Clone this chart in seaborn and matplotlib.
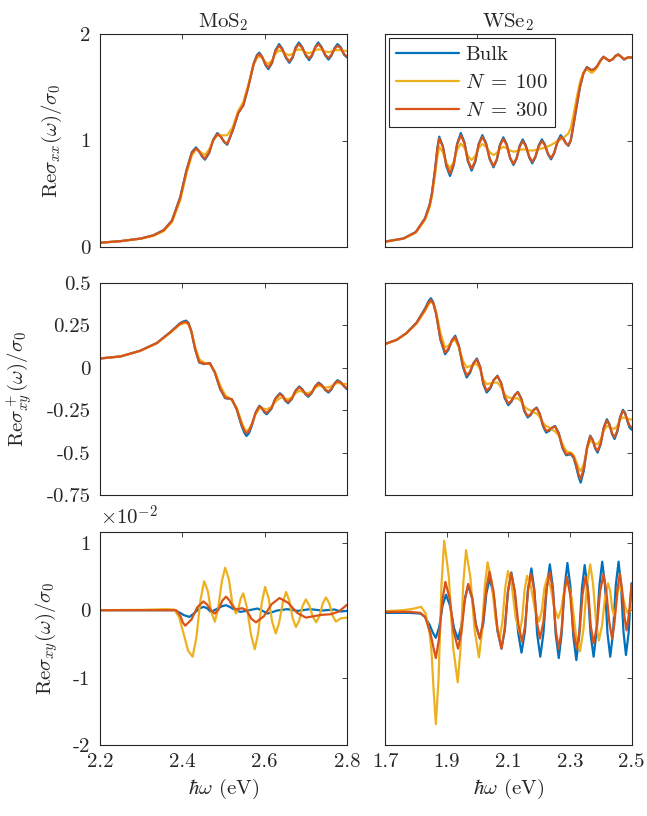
import pandas as pd
import matplotlib
matplotlib.use("Agg")
import matplotlib.pyplot as plt
from matplotlib.lines import Line2D
import seaborn as sns

# ---- MoS2, Re sigma_xx / sigma_0 ----
mos2_xx_e = [2.200, 2.250, 2.300, 2.330, 2.355, 2.375, 2.395, 2.410, 2.423, 2.433,
             2.440, 2.448, 2.455, 2.465, 2.475, 2.485, 2.493, 2.501, 2.509,
             2.522, 2.536, 2.548, 2.560, 2.573, 2.581, 2.587,
             2.594, 2.602, 2.609, 2.618, 2.626, 2.635, 2.643, 2.652, 2.660,
             2.668, 2.675, 2.683, 2.691, 2.700, 2.708, 2.715, 2.723, 2.730,
             2.738, 2.747, 2.755, 2.762, 2.770, 2.777, 2.785, 2.793, 2.800]
mos2_xx_bulk = [0.040, 0.055, 0.080, 0.110, 0.160, 0.250, 0.470, 0.720, 0.890, 0.935,
                0.906, 0.849, 0.820, 0.882, 1.008, 1.070, 1.043, 0.988, 0.960,
                1.090, 1.260, 1.330, 1.500, 1.720, 1.800, 1.825,
                1.786, 1.709, 1.670, 1.729, 1.846, 1.905, 1.861, 1.774, 1.730,
                1.778, 1.873, 1.920, 1.879, 1.796, 1.755, 1.796, 1.879, 1.920,
                1.880, 1.800, 1.760, 1.796, 1.869, 1.905, 1.875, 1.805, 1.780]
mos2_xx_n300 = [0.040, 0.055, 0.080, 0.110, 0.158, 0.247, 0.465, 0.715, 0.882, 0.925,
                0.900, 0.855, 0.830, 0.887, 1.003, 1.060, 1.037, 0.991, 0.968,
                1.090, 1.260, 1.330, 1.500, 1.715, 1.792, 1.813,
                1.781, 1.716, 1.684, 1.735, 1.839, 1.890, 1.853, 1.780, 1.743,
                1.784, 1.864, 1.905, 1.871, 1.804, 1.770, 1.804, 1.871, 1.905,
                1.873, 1.807, 1.775, 1.804, 1.861, 1.890, 1.866, 1.810, 1.790]
mos2_xx_n100 = [0.040, 0.055, 0.078, 0.105, 0.150, 0.235, 0.440, 0.690, 0.860, 0.915,
                0.905, 0.880, 0.865, 0.915, 1.000, 1.050, 1.050, 1.048, 1.050,
                1.120, 1.280, 1.360, 1.520, 1.710, 1.775, 1.790,
                1.778, 1.735, 1.720, 1.752, 1.815, 1.845, 1.838, 1.812, 1.800,
                1.815, 1.845, 1.855, 1.850, 1.828, 1.820, 1.830, 1.850, 1.855,
                1.852, 1.836, 1.830, 1.835, 1.846, 1.850, 1.848, 1.843, 1.840]

# ---- WSe2, Re sigma_xx / sigma_0 ----
wse2_xx_e = [1.700, 1.760, 1.800, 1.830, 1.845, 1.852, 1.862, 1.870, 1.876,
             1.888, 1.899, 1.911, 1.923, 1.934, 1.946, 1.958, 1.969, 1.981,
             1.993, 2.004, 2.016, 2.028, 2.040, 2.052, 2.063, 2.073, 2.084,
             2.095, 2.106, 2.117, 2.127, 2.137, 2.147, 2.157, 2.168, 2.178,
             2.188, 2.199, 2.209, 2.219, 2.229, 2.239, 2.249, 2.260, 2.270,
             2.278, 2.287, 2.295, 2.303, 2.311, 2.322, 2.333, 2.344, 2.355,
             2.363, 2.371, 2.380, 2.389, 2.399, 2.409, 2.417, 2.428, 2.440,
             2.448, 2.457, 2.465, 2.476, 2.488, 2.500]
wse2_xx_bulk = [0.050, 0.080, 0.140, 0.270, 0.400, 0.500, 0.720, 0.930, 1.036,
                0.944, 0.759, 0.667, 0.768, 0.969, 1.070, 0.982, 0.805, 0.717,
                0.800, 0.967, 1.050, 0.975, 0.824, 0.748, 0.819, 0.960, 1.030,
                0.965, 0.835, 0.770, 0.830, 0.950, 1.010, 0.954, 0.842, 0.786,
                0.842, 0.954, 1.010, 0.963, 0.870, 0.823, 0.880, 0.993, 1.050,
                1.025, 0.975, 0.950, 1.000, 1.130, 1.320, 1.505, 1.630, 1.690,
                1.675, 1.660, 1.672, 1.700, 1.750, 1.787, 1.770, 1.745, 1.765,
                1.795, 1.810, 1.790, 1.760, 1.780, 1.780]
wse2_xx_n300 = [0.050, 0.080, 0.140, 0.268, 0.395, 0.495, 0.710, 0.920, 1.020,
                0.938, 0.773, 0.690, 0.780, 0.960, 1.050, 0.971, 0.814, 0.735,
                0.810, 0.960, 1.035, 0.966, 0.829, 0.760, 0.824, 0.951, 1.015,
                0.956, 0.839, 0.780, 0.834, 0.941, 0.995, 0.946, 0.849, 0.800,
                0.849, 0.946, 0.995, 0.955, 0.875, 0.835, 0.885, 0.985, 1.035,
                1.015, 0.975, 0.955, 1.005, 1.140, 1.330, 1.510, 1.630, 1.685,
                1.672, 1.660, 1.672, 1.700, 1.750, 1.785, 1.770, 1.748, 1.765,
                1.793, 1.805, 1.790, 1.762, 1.780, 1.780]
wse2_xx_n100 = [0.050, 0.078, 0.135, 0.255, 0.375, 0.470, 0.670, 0.850, 0.940,
                0.890, 0.790, 0.740, 0.798, 0.913, 0.970, 0.932, 0.855, 0.817,
                0.854, 0.930, 0.967, 0.941, 0.890, 0.864, 0.883, 0.921, 0.940,
                0.929, 0.906, 0.895, 0.900, 0.911, 0.917, 0.914, 0.908, 0.905,
                0.910, 0.918, 0.926, 0.933, 0.945, 0.958, 0.975, 0.995, 1.010,
                1.025, 1.045, 1.065, 1.120, 1.230, 1.400, 1.550, 1.640, 1.670,
                1.650, 1.635, 1.655, 1.690, 1.745, 1.780, 1.770, 1.750, 1.765,
                1.790, 1.805, 1.790, 1.765, 1.780, 1.780]

# ---- MoS2, Re sigma+_xy / sigma_0 ----
mos2_xyp_e = [2.200, 2.250, 2.297, 2.338, 2.370, 2.394, 2.403, 2.409, 2.415, 2.422,
              2.431, 2.441, 2.453, 2.467, 2.479, 2.492, 2.504, 2.520, 2.532, 2.544,
              2.551, 2.556, 2.562, 2.569, 2.578, 2.587, 2.593, 2.599, 2.605,
              2.616, 2.626, 2.637, 2.644, 2.650, 2.657, 2.666, 2.675, 2.684,
              2.691, 2.699, 2.706, 2.714, 2.723, 2.731, 2.739, 2.747, 2.755,
              2.762, 2.770, 2.777, 2.785, 2.793, 2.800]
mos2_xyp_bulk = [0.055, 0.067, 0.100, 0.146, 0.209, 0.262, 0.274, 0.278, 0.265, 0.215,
                 0.110, 0.031, 0.022, 0.028, -0.028, -0.126, -0.179, -0.185, -0.244, -0.343,
                 -0.385, -0.402, -0.385, -0.340, -0.265, -0.224, -0.236, -0.262, -0.274,
                 -0.243, -0.181, -0.150, -0.165, -0.194, -0.209, -0.184, -0.135, -0.110,
                 -0.125, -0.156, -0.171, -0.150, -0.108, -0.087, -0.102, -0.131, -0.146,
                 -0.128, -0.091, -0.073, -0.085, -0.110, -0.126]
mos2_xyp_n300 = [0.055, 0.067, 0.100, 0.146, 0.208, 0.259, 0.269, 0.272, 0.260, 0.213,
                 0.112, 0.034, 0.024, 0.027, -0.028, -0.122, -0.176, -0.185, -0.242, -0.335,
                 -0.372, -0.386, -0.372, -0.332, -0.265, -0.228, -0.238, -0.256, -0.265,
                 -0.240, -0.183, -0.155, -0.167, -0.191, -0.202, -0.182, -0.137, -0.115,
                 -0.128, -0.153, -0.165, -0.147, -0.110, -0.092, -0.104, -0.128, -0.140,
                 -0.124, -0.093, -0.078, -0.088, -0.108, -0.120]
mos2_xyp_n100 = [0.055, 0.067, 0.099, 0.144, 0.205, 0.254, 0.262, 0.264, 0.255, 0.215,
                 0.125, 0.050, 0.030, 0.020, -0.020, -0.105, -0.160, -0.190, -0.235, -0.320,
                 -0.360, -0.372, -0.362, -0.330, -0.275, -0.240, -0.238, -0.242, -0.244,
                 -0.232, -0.200, -0.178, -0.176, -0.181, -0.185, -0.175, -0.150, -0.136,
                 -0.140, -0.148, -0.150, -0.140, -0.118, -0.106, -0.110, -0.115, -0.115,
                 -0.108, -0.095, -0.090, -0.092, -0.095, -0.096]

# ---- WSe2, Re sigma+_xy / sigma_0 ----
wse2_xyp_e = [1.700, 1.738, 1.770, 1.803, 1.830, 1.842, 1.849, 1.857, 1.866, 1.880,
              1.895, 1.906, 1.917, 1.928, 1.940, 1.953, 1.965, 1.976, 1.987, 1.998,
              2.009, 2.019, 2.030, 2.042, 2.053, 2.065, 2.077, 2.088, 2.100,
              2.110, 2.121, 2.131, 2.142, 2.152, 2.163, 2.173, 2.182, 2.192,
              2.202, 2.213, 2.223, 2.233, 2.242, 2.252, 2.264, 2.276, 2.288,
              2.296, 2.303, 2.312, 2.320, 2.328, 2.335, 2.345, 2.356, 2.366,
              2.374, 2.382, 2.390, 2.400, 2.410, 2.420, 2.428, 2.437, 2.445,
              2.454, 2.463, 2.472, 2.479, 2.486, 2.493, 2.500]
wse2_xyp_bulk = [0.140, 0.165, 0.205, 0.268, 0.350, 0.395, 0.410, 0.385, 0.320, 0.165,
                 0.080, 0.107, 0.162, 0.189, 0.128, 0.005, -0.057, -0.029, 0.027, 0.055,
                 0.005, -0.096, -0.146, -0.121, -0.072, -0.047, -0.090, -0.177, -0.220,
                 -0.200, -0.162, -0.142, -0.180, -0.255, -0.293, -0.278, -0.249, -0.234,
                 -0.271, -0.345, -0.382, -0.372, -0.353, -0.343, -0.386, -0.473, -0.516,
                 -0.512, -0.510, -0.530, -0.580, -0.640, -0.677, -0.608, -0.469, -0.400,
                 -0.425, -0.475, -0.500, -0.451, -0.352, -0.303, -0.332, -0.391, -0.420,
                 -0.377, -0.291, -0.248, -0.265, -0.310, -0.350, -0.365]
wse2_xyp_n300 = [0.140, 0.165, 0.205, 0.266, 0.345, 0.386, 0.400, 0.378, 0.318, 0.170,
                 0.090, 0.113, 0.159, 0.182, 0.125, 0.012, -0.045, -0.021, 0.026, 0.050,
                 0.004, -0.089, -0.135, -0.114, -0.071, -0.050, -0.090, -0.170, -0.210,
                 -0.194, -0.161, -0.145, -0.180, -0.250, -0.285, -0.273, -0.249, -0.237,
                 -0.271, -0.338, -0.372, -0.366, -0.353, -0.347, -0.388, -0.469, -0.510,
                 -0.507, -0.505, -0.525, -0.570, -0.625, -0.657, -0.594, -0.468, -0.405,
                 -0.426, -0.469, -0.490, -0.445, -0.355, -0.310, -0.335, -0.385, -0.410,
                 -0.371, -0.294, -0.255, -0.268, -0.305, -0.338, -0.352]
wse2_xyp_n100 = [0.140, 0.165, 0.203, 0.262, 0.335, 0.375, 0.390, 0.378, 0.330, 0.205,
                 0.120, 0.130, 0.155, 0.165, 0.120, 0.040, 0.002, 0.010, 0.019, 0.022,
                 -0.010, -0.070, -0.096, -0.092, -0.087, -0.087, -0.115, -0.155, -0.175,
                 -0.178, -0.180, -0.180, -0.198, -0.228, -0.244, -0.252, -0.262, -0.270,
                 -0.290, -0.325, -0.343, -0.352, -0.365, -0.375, -0.400, -0.450, -0.490,
                 -0.497, -0.500, -0.515, -0.550, -0.590, -0.608, -0.570, -0.475, -0.430,
                 -0.437, -0.447, -0.450, -0.423, -0.370, -0.343, -0.348, -0.357, -0.360,
                 -0.342, -0.305, -0.293, -0.295, -0.300, -0.303, -0.305]

# ---- MoS2, Re sigma_xy / sigma_0  (in units of 1e-2) ----
mos2_xy_bulk_e = [2.200, 2.300, 2.380, 2.395, 2.404, 2.417, 2.428, 2.440, 2.451, 2.460,
                  2.469, 2.478, 2.487, 2.497, 2.506, 2.515, 2.523, 2.533, 2.542, 2.562,
                  2.583, 2.595, 2.607, 2.618, 2.630, 2.655, 2.680, 2.710, 2.740, 2.770,
                  2.785, 2.800]
mos2_xy_bulk = [0.0, 0.0, 0.0, -0.04, -0.074, -0.10, -0.05, 0.02, 0.05, 0.03,
                -0.025, 0.0, 0.03, 0.06, 0.074, 0.05, 0.02, -0.01, -0.025, 0.0,
                0.025, -0.01, -0.05, -0.03, -0.005, 0.015, -0.01, 0.015, -0.005, 0.01,
                -0.02, -0.01]
mos2_xy_n300_e = [2.200, 2.300, 2.385, 2.395, 2.401, 2.407, 2.422, 2.436, 2.451, 2.460,
                  2.470, 2.479, 2.488, 2.497, 2.506, 2.514, 2.522, 2.530, 2.545, 2.556,
                  2.568, 2.579, 2.598, 2.617, 2.636, 2.657, 2.679, 2.700, 2.737, 2.761,
                  2.780, 2.800]
mos2_xy_n300 = [0.0, 0.0, 0.0, -0.08, -0.18, -0.23, -0.14, 0.04, 0.13, 0.085,
                -0.005, -0.05, 0.01, 0.14, 0.20, 0.15, 0.06, 0.01, 0.03, 0.0,
                -0.13, -0.18, -0.09, 0.09, 0.18, 0.11, -0.04, -0.11, -0.07, -0.06,
                -0.02, 0.08]
mos2_xy_n100_e = [2.200, 2.300, 2.360, 2.380, 2.392, 2.404, 2.414, 2.425, 2.434, 2.444,
                  2.453, 2.462, 2.470, 2.479, 2.487, 2.496, 2.504, 2.513, 2.521, 2.530,
                  2.536, 2.542, 2.548, 2.557, 2.567, 2.576, 2.584, 2.593, 2.601, 2.610,
                  2.618, 2.627, 2.635, 2.644, 2.652, 2.660, 2.668, 2.676, 2.684, 2.692,
                  2.700, 2.708, 2.717, 2.725, 2.733, 2.741, 2.749, 2.757, 2.765, 2.773,
                  2.785, 2.800]
mos2_xy_n100 = [0.0, 0.005, 0.015, 0.01, -0.10, -0.37, -0.60, -0.69, -0.41, 0.15,
                0.43, 0.28, -0.02, -0.17, 0.03, 0.43, 0.63, 0.46, 0.12, -0.05,
                0.025, 0.175, 0.25, 0.04, -0.37, -0.58, -0.35, 0.11, 0.345, 0.17,
                -0.17, -0.345, -0.19, 0.11, 0.27, 0.14, -0.12, -0.25, -0.15, 0.06,
                0.16, 0.075, -0.095, -0.18, -0.09, 0.10, 0.19, 0.10, -0.08, -0.17,
                -0.12, -0.11]

# ---- WSe2, Re sigma_xy / sigma_0  (in units of 1e-2) ----
wse2_xy_bulk_e = [1.700, 1.780, 1.815, 1.830, 1.845, 1.855, 1.865, 1.876, 1.887, 1.898,
                  1.911, 1.924, 1.937, 1.948, 1.959, 1.970, 1.983, 1.995, 2.008, 2.019,
                  2.029, 2.040, 2.053, 2.065, 2.078, 2.089, 2.099, 2.110, 2.121, 2.132,
                  2.143, 2.154, 2.164, 2.175, 2.185, 2.194, 2.204, 2.214, 2.225, 2.235,
                  2.245, 2.254, 2.264, 2.273, 2.283, 2.292, 2.302, 2.311, 2.321, 2.330,
                  2.339, 2.348, 2.358, 2.367, 2.377, 2.386, 2.396, 2.405, 2.414, 2.422,
                  2.431, 2.440, 2.449, 2.458, 2.466, 2.474, 2.482, 2.491, 2.500]
wse2_xy_bulk = [-0.04, -0.04, -0.05, -0.10, -0.22, -0.33, -0.41, -0.25, 0.07, 0.23,
                0.065, -0.265, -0.43, -0.23, 0.17, 0.37, 0.17, -0.22, -0.42, -0.20,
                0.25, 0.47, 0.21, -0.31, -0.57, -0.29, 0.28, 0.56, 0.26, -0.33,
                -0.63, -0.32, 0.31, 0.62, 0.29, -0.36, -0.69, -0.35, 0.34, 0.68,
                0.33, -0.36, -0.71, -0.36, 0.35, 0.70, 0.34, -0.38, -0.74, -0.39,
                0.32, 0.67, 0.33, -0.35, -0.69, -0.34, 0.37, 0.72, 0.37, -0.34,
                -0.69, -0.34, 0.37, 0.72, 0.37, -0.32, -0.665, -0.32, 0.40]
wse2_xy_n300_e = [1.700, 1.780, 1.815, 1.830, 1.848, 1.857, 1.865, 1.875, 1.886, 1.896,
                  1.910, 1.923, 1.937, 1.948, 1.959, 1.970, 1.983, 1.995, 2.008, 2.018,
                  2.029, 2.039, 2.052, 2.065, 2.078, 2.088, 2.099, 2.109, 2.121, 2.133,
                  2.145, 2.155, 2.164, 2.174, 2.184, 2.193, 2.203, 2.214, 2.224, 2.235,
                  2.245, 2.254, 2.264, 2.273, 2.281, 2.290, 2.301, 2.311, 2.322, 2.332,
                  2.341, 2.351, 2.360, 2.368, 2.377, 2.388, 2.398, 2.409, 2.418, 2.428,
                  2.437, 2.445, 2.454, 2.462, 2.469, 2.477, 2.484, 2.492, 2.500]
wse2_xy_n300 = [-0.025, -0.025, -0.04, -0.10, -0.35, -0.55, -0.71, -0.43, 0.14, 0.42,
                0.17, -0.32, -0.57, -0.33, 0.15, 0.39, 0.19, -0.22, -0.42, -0.17,
                0.32, 0.57, 0.285, -0.285, -0.57, -0.29, 0.27, 0.55, 0.295, -0.215,
                -0.47, -0.22, 0.29, 0.54, 0.30, -0.18, -0.42, -0.175, 0.315, 0.56,
                0.28, -0.29, -0.57, -0.30, 0.23, 0.50, 0.23, -0.30, -0.57, -0.30,
                0.23, 0.50, 0.25, -0.24, -0.49, -0.235, 0.275, 0.53, 0.29, -0.18,
                -0.42, -0.18, 0.30, 0.54, 0.33, -0.09, -0.30, -0.05, 0.38]
wse2_xy_n100_e = [1.700, 1.760, 1.790, 1.817, 1.832, 1.845, 1.851, 1.858, 1.865, 1.874,
                  1.883, 1.892, 1.907, 1.921, 1.936, 1.945, 1.954, 1.963, 1.977, 1.991,
                  2.005, 2.014, 2.024, 2.033, 2.046, 2.059, 2.072, 2.081, 2.090, 2.099,
                  2.112, 2.124, 2.137, 2.145, 2.153, 2.161, 2.174, 2.187, 2.200, 2.209,
                  2.217, 2.226, 2.238, 2.250, 2.262, 2.272, 2.282, 2.292, 2.306, 2.319,
                  2.333, 2.344, 2.355, 2.366, 2.375, 2.385, 2.394, 2.404, 2.414, 2.424,
                  2.431, 2.437, 2.444, 2.449, 2.455, 2.460, 2.469, 2.479, 2.488, 2.494,
                  2.500]
wse2_xy_n100 = [-0.015, 0.0, 0.02, 0.05, -0.05, -0.35, -0.62, -1.20, -1.69, -1.01,
                0.35, 1.03, 0.505, -0.545, -1.07, -0.58, 0.40, 0.89, 0.49, -0.30,
                -0.70, -0.35, 0.36, 0.71, 0.43, -0.14, -0.42, -0.17, 0.33, 0.58,
                0.35, -0.11, -0.34, -0.13, 0.30, 0.51, 0.34, 0.0, -0.17, -0.01,
                0.32, 0.48, 0.33, 0.03, -0.12, 0.02, 0.30, 0.44, 0.18, -0.35,
                -0.61, -0.29, 0.36, 0.68, 0.40, -0.17, -0.45, -0.24, 0.19, 0.40,
                0.28, 0.03, -0.09, 0.03, 0.26, 0.37, 0.27, 0.06, -0.05, -0.02,
                0.05]

series_names = ["Bulk", "N100", "N300"]
legend_labels = ["Bulk", r"$N\;=\;100$", r"$N\;=\;300$"]
colors = {"Bulk": "#0072BD", "N100": "#EDB120", "N300": "#D95319"}


def long_df(bulk, n100, n300):
    parts = []
    for name, (e, v) in zip(series_names, [bulk, n100, n300]):
        parts.append(pd.DataFrame({"energy": e, "value": v, "series": name}))
    return pd.concat(parts, ignore_index=True)


panels = [
    long_df((mos2_xx_e, mos2_xx_bulk), (mos2_xx_e, mos2_xx_n100), (mos2_xx_e, mos2_xx_n300)),
    long_df((wse2_xx_e, wse2_xx_bulk), (wse2_xx_e, wse2_xx_n100), (wse2_xx_e, wse2_xx_n300)),
    long_df((mos2_xyp_e, mos2_xyp_bulk), (mos2_xyp_e, mos2_xyp_n100), (mos2_xyp_e, mos2_xyp_n300)),
    long_df((wse2_xyp_e, wse2_xyp_bulk), (wse2_xyp_e, wse2_xyp_n100), (wse2_xyp_e, wse2_xyp_n300)),
    long_df((mos2_xy_bulk_e, mos2_xy_bulk), (mos2_xy_n100_e, mos2_xy_n100), (mos2_xy_n300_e, mos2_xy_n300)),
    long_df((wse2_xy_bulk_e, wse2_xy_bulk), (wse2_xy_n100_e, wse2_xy_n100), (wse2_xy_n300_e, wse2_xy_n300)),
]

sns.set_style("white")
plt.rcParams["font.family"] = "serif"
plt.rcParams["font.serif"] = ["cmr10"]
plt.rcParams["mathtext.fontset"] = "cm"
plt.rcParams["axes.unicode_minus"] = False
plt.rcParams["axes.formatter.use_mathtext"] = True
plt.rcParams["font.size"] = 15

fig = plt.figure(figsize=(6.47, 8.16), dpi=100)

W, H = 647.0, 816.0
cols = [(100, 247), (385, 246.5)]
rows = [(34, 213), (283, 212), (532, 213)]

xlims = [(2.2, 2.8), (1.7, 2.5)]
ylims = [(0, 2), (-0.75, 0.5), (-2, 1.16)]
yticks = [[0, 1, 2], [-0.75, -0.5, -0.25, 0, 0.25, 0.5], [-2, -1, 0, 1]]
ytick_labels = [["0", "1", "2"], ["-0.75", "-0.5", "-0.25", "0", "0.25", "0.5"], ["-2", "-1", "0", "1"]]
xticks_upper = [[2.2, 2.4, 2.6, 2.8], [2.0, 2.5]]
xticks_lower = [[2.2, 2.4, 2.6, 2.8], [1.7, 1.9, 2.1, 2.3, 2.5]]
xtick_labels_lower = [["2.2", "2.4", "2.6", "2.8"], ["1.7", "1.9", "2.1", "2.3", "2.5"]]
ylabels = [r"Re$\sigma_{xx}(\omega)/\sigma_0$",
           r"Re$\sigma^+_{xy}(\omega)/\sigma_0$",
           r"Re$\sigma_{xy}(\omega)/\sigma_0$"]
ylabel_pads = [11, 9, 9]
titles = [r"MoS$_2$", r"WSe$_2$"]

axes = {}
for r, (top, h) in enumerate(rows):
    for c, (left, w) in enumerate(cols):
        ax = fig.add_axes([left / W, 1 - (top + h) / H, w / W, h / H])
        axes[(r, c)] = ax
        df = panels[2 * r + c]
        sns.lineplot(data=df, x="energy", y="value", hue="series", hue_order=series_names,
                     palette=colors, estimator=None, sort=False, legend=False,
                     linewidth=1.6, ax=ax)
        for ln in ax.get_lines():
            ln.set_solid_joinstyle("round")
        ax.set_xlim(*xlims[c])
        ax.set_ylim(*ylims[r])
        ax.set_yticks(yticks[r])
        if c == 0:
            ax.set_yticklabels(ytick_labels[r])
            ax.set_ylabel(ylabels[r], labelpad=ylabel_pads[r])
        else:
            ax.set_yticklabels([])
            ax.set_ylabel("")
        if r == 2:
            ax.set_xticks(xticks_lower[c])
            ax.set_xticklabels(xtick_labels_lower[c])
            ax.set_xlabel(r"$\hbar\omega$ (eV)", labelpad=4)
        else:
            ax.set_xticks(xticks_upper[c])
            ax.set_xticklabels([])
            ax.set_xlabel("")
        ax.tick_params(direction="in", top=True, right=True, length=3.5, width=0.6,
                       color="#262626", labelcolor="#262626", labelsize=15)
        ax.tick_params(axis="y", pad=7)
        ax.tick_params(axis="x", pad=6)
        for sp in ax.spines.values():
            sp.set_visible(True)
            sp.set_color("#262626")
            sp.set_linewidth(0.8)
        if r == 0:
            ax.set_title(titles[c], fontsize=15, pad=5, color="#262626")
        if r == 2 and c == 0:
            ax.text(0.0, 1.015, r"$\times10^{-2}$", transform=ax.transAxes,
                    ha="left", va="bottom", fontsize=15, color="#262626")

handles = [Line2D([], [], color=colors[s], lw=1.6) for s in series_names]
leg = axes[(0, 1)].legend(handles, legend_labels, loc="upper left", bbox_to_anchor=(0, 1),
                          borderaxespad=0.2, fancybox=False, framealpha=1, edgecolor="#262626",
                          fontsize=15, handlelength=3.0, handletextpad=0.3, labelspacing=0.45,
                          borderpad=0.35)
leg.get_frame().set_linewidth(0.8)

fig.savefig("out.png", dpi=100)
